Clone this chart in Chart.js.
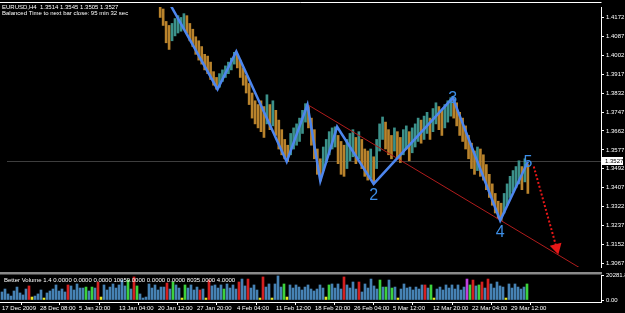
<!DOCTYPE html>
<html>
<head>
<meta charset="utf-8">
<script src="https://cdn.jsdelivr.net/npm/chart.js@4.4.1/dist/chart.umd.min.js"></script>
<style>
html, body { margin: 0; padding: 0; background: #000; width: 625px; height: 313px; overflow: hidden; }
#wrap { position: relative; width: 625px; height: 313px; }
#main { position: absolute; left: 0; top: 0; }
#vol { position: absolute; left: 0; top: 268px; }
</style>
</head>
<body>
<div id="wrap">
    <canvas id="main" width="625" height="274"></canvas>
    <canvas id="vol" width="625" height="45"></canvas>
</div>
<script>
const priceStart = 51;
const priceHigh = [
    1.4246, 1.4211, 1.4155, 1.4137, 1.4146, 1.4168, 1.4181, 1.4173, 1.4190, 1.4181,
    1.4146, 1.4120, 1.4086, 1.4068, 1.4042, 1.4007, 1.3999, 1.3972, 1.3929, 1.3903,
    1.3920, 1.3937, 1.3955, 1.3972, 1.3990, 1.4016, 1.4007, 1.3981, 1.3946, 1.3912,
    1.3876, 1.3833, 1.3798, 1.3781, 1.3798, 1.3772, 1.3825, 1.3781, 1.3798, 1.3755,
    1.3711, 1.3668, 1.3624, 1.3598, 1.3651, 1.3676, 1.3694, 1.3720, 1.3755, 1.3785,
    1.3772, 1.3720, 1.3668, 1.3581, 1.3537, 1.3590, 1.3624, 1.3659, 1.3676, 1.3681,
    1.3642, 1.3615, 1.3598, 1.3624, 1.3651, 1.3668, 1.3633, 1.3659, 1.3624, 1.3581,
    1.3572, 1.3581, 1.3546, 1.3624, 1.3694, 1.3725, 1.3702, 1.3668, 1.3642, 1.3676,
    1.3659, 1.3633, 1.3668, 1.3685, 1.3659, 1.3676, 1.3694, 1.3720, 1.3711, 1.3729,
    1.3746, 1.3720, 1.3763, 1.3789, 1.3772, 1.3755, 1.3781, 1.3798, 1.3812, 1.3807,
    1.3789, 1.3746, 1.3720, 1.3685, 1.3642, 1.3607, 1.3572, 1.3590, 1.3581, 1.3555,
    1.3511, 1.3467, 1.3424, 1.3381, 1.3346, 1.3337, 1.3381, 1.3424, 1.3458, 1.3484,
    1.3502, 1.3528, 1.3502, 1.3537, 1.3511
];
const priceLow = [
    1.4173, 1.4137, 1.4059, 1.4029, 1.4068, 1.4090, 1.4103, 1.4111, 1.4120, 1.4103,
    1.4068, 1.4042, 1.4007, 1.3981, 1.3963, 1.3937, 1.3920, 1.3894, 1.3868, 1.3850,
    1.3859, 1.3885, 1.3903, 1.3920, 1.3937, 1.3963, 1.3946, 1.3903, 1.3868, 1.3833,
    1.3781, 1.3720, 1.3694, 1.3676, 1.3659, 1.3633, 1.3694, 1.3668, 1.3685, 1.3642,
    1.3581, 1.3555, 1.3537, 1.3524, 1.3555, 1.3581, 1.3598, 1.3615, 1.3651, 1.3702,
    1.3676, 1.3598, 1.3537, 1.3467, 1.3437, 1.3484, 1.3520, 1.3555, 1.3581, 1.3590,
    1.3515, 1.3467, 1.3458, 1.3493, 1.3528, 1.3546, 1.3515, 1.3537, 1.3493, 1.3458,
    1.3441, 1.3450, 1.3424, 1.3493, 1.3572, 1.3624, 1.3581, 1.3555, 1.3537, 1.3572,
    1.3537, 1.3520, 1.3555, 1.3581, 1.3528, 1.3564, 1.3590, 1.3615, 1.3607, 1.3624,
    1.3651, 1.3624, 1.3659, 1.3694, 1.3668, 1.3642, 1.3676, 1.3702, 1.3729, 1.3720,
    1.3685, 1.3642, 1.3615, 1.3581, 1.3537, 1.3493, 1.3467, 1.3484, 1.3458, 1.3441,
    1.3398, 1.3363, 1.3328, 1.3293, 1.3267, 1.3259, 1.3293, 1.3328, 1.3363, 1.3389,
    1.3407, 1.3424, 1.3398, 1.3433, 1.3381
];

// Better Volume subwindow
const volume = [
    6500, 8900, 4900, 3200, 7300, 10500, 5700, 4100, 8900, 11400,
    2400, 3200, 4900, 8100, 1600, 5700, 7300, 8900, 12200, 7300,
    8900, 6500, 12200, 11400, 8100, 13000, 9700, 9700, 10500, 7300,
    10500, 9700, 14600, 2400, 12200, 8100, 10500, 13000, 9700, 12200,
    16200, 11400, 16200, 8900, 18700, 11400, 4900, 1600, 2400, 13000,
    9700, 12200, 8100, 10500, 10500, 13800, 8900, 14600, 12200, 9700,
    1600, 12200, 9700, 12200, 8100, 10500, 8100, 8900, 1600, 16200,
    11400, 12200, 9700, 12200, 8900, 13000, 9700, 12200, 8900, 14600,
    17000, 11400, 17000, 9700, 12200, 8100, 1600, 18700, 10500, 13000,
    1600, 13000, 19500, 10500, 13000, 2400, 12200, 9700, 12200, 10500,
    8100, 10500, 12200, 8900, 7300, 8900, 12200, 9700, 2400, 12200,
    13000, 9700, 13000, 8900, 18700, 12200, 9700, 14600, 8900, 14600,
    6500, 13000, 9700, 17000, 11400, 8900, 16200, 10500, 10500, 16200,
    9700, 10500, 1600, 8900, 13000, 9700, 10500, 8100, 10500, 8900,
    12200, 12200, 9700, 12200, 1600, 8900, 10500, 8100, 12200, 9700,
    12200, 8900, 12200, 8100, 10500, 17000, 12200, 16200, 11400, 12200,
    14600, 9700, 17000, 13000, 9700, 14600, 11400, 10500, 1600, 13000,
    9700, 13000, 10500, 8900, 10500, 13000
];
// n = normal, r = climax, g = churn, y = low volume, m = climax churn
const volType = (
    'nnnnnnnnnr' + 'ynnnynnnnn' + 'nnrnnnnngn' + 'gnrynnnnnn' + 'nngnrgnnnn' +
    'nnnnnrngnn' + 'ygnnnnrnyr' + 'nnnngnnnnr' + 'nnrnnnyrnn' + 'ynnngynnnn' +
    'nnnnnnnnyg' + 'nnnnrnnnnr' + 'nnnnnngngn' + 'gnynnnnnnn' + 'nrngynnnnn' +
    'nnnnnmgrng' + 'rnrnnnnnyn' + 'nnnnng'
).split('');
const volMax = 20281.8;

const dateLabels = ['17 Dec 2009', '28 Dec 08:00', '5 Jan 20:00', '13 Jan 04:00', '20 Jan 12:00',
    '27 Jan 20:00', '4 Feb 04:00', '11 Feb 12:00', '18 Feb 20:00', '26 Feb 04:00',
    '5 Mar 12:00', '12 Mar 20:00', '22 Mar 04:00', '29 Mar 12:00'];
const dateBars = [0, 12.67, 25.67, 39, 52, 65, 78.33, 91.33, 104.33, 117.33, 130.33, 143.67, 156.67, 169.67];

const priceTicks = [1.3067, 1.3152, 1.3237, 1.3322, 1.3407, 1.3492, 1.3577, 1.3662,
    1.3747, 1.3832, 1.3917, 1.4002, 1.4087, 1.4172];
const lastPrice = 1.3527;

// zigzag / wave count
const zzBar = [52, 70.33, 76.67, 93.67, 100.67, 105, 110.67, 123, 149.67, 165.67, 175];
const zzPrice = [1.4288, 1.3850, 1.4020, 1.3524, 1.3781, 1.3437, 1.3681, 1.3424, 1.3811, 1.3259, 1.3524];
const waveNames = ['2', '3', '4', '5'];
const waveAt = [7, 8, 9, 10];

const trendBar = [100.67, 192.67];
const trendPrice = [1.3781, 1.3045];
const arrowBar = [177, 184.67];
const arrowPrice = [1.3502, 1.3137];

const xMin = -2 / 3, xMax = 199.67;
const FONT = 'Arial';

const priceBars = priceHigh.map((h, k) => ({ x: priceStart + k, y: [priceLow[k], h] }));
const barColors = priceHigh.map((h, k) => {
    if (k === 0) return '#b9832c';
    const mid = (h + priceLow[k]) / 2;
    const prev = (priceHigh[k - 1] + priceLow[k - 1]) / 2;
    return mid >= prev ? '#3c918a' : '#b9832c';
});

const mainDecor = {
    id: 'mainDecor',
    beforeDatasetsDraw(chart) {
        const { ctx, chartArea: a, scales: { y } } = chart;
        ctx.save();
        ctx.strokeStyle = '#3e3e3e';
        ctx.lineWidth = 1;
        const py = Math.round(y.getPixelForValue(lastPrice)) + 0.5;
        ctx.beginPath();
        ctx.moveTo(a.left, py);
        ctx.lineTo(a.right, py);
        ctx.stroke();
        ctx.restore();
    },
    afterDraw(chart) {
        const { ctx, chartArea: a, scales: { x, y } } = chart;
        ctx.save();
        ctx.strokeStyle = '#ffffff';
        ctx.lineWidth = 1;
        ctx.beginPath();
        ctx.moveTo(0, 2.5);
        ctx.lineTo(a.right + 0.5, 2.5);
        ctx.stroke();

        ctx.fillStyle = '#ffffff';
        ctx.font = '6px ' + FONT;
        ctx.textBaseline = 'alphabetic';
        ctx.fillText('EURUSD,H4  1.3514 1.3545 1.3505 1.3527', 2, 8.5);
        ctx.fillText('Balanced Time to next bar close: 95 min 32 sec', 2, 15);

        const py = y.getPixelForValue(lastPrice);
        ctx.fillRect(a.right + 1, py - 4, 21, 8);
        ctx.fillStyle = '#000000';
        ctx.textBaseline = 'middle';
        ctx.fillText(lastPrice.toFixed(4), a.right + 4, py + 0.5);

        ctx.font = '16px ' + FONT;
        ctx.fillStyle = '#3d8ee6';
        ctx.textAlign = 'center';
        waveNames.forEach((n, k) => {
            const j = waveAt[k];
            const px = x.getPixelForValue(zzBar[j]);
            let ly = y.getPixelForValue(zzPrice[j]);
            if (n === '2' || n === '4') ly += 11;
            ctx.fillText(n, px, ly + 1);
        });
        ctx.restore();
    }
};

new Chart(document.getElementById('main'), {
    type: 'bar',
    data: {
        datasets: [
            {
                type: 'line',
                data: trendBar.map((b, k) => ({ x: b, y: trendPrice[k] })),
                borderColor: '#b01c1c',
                borderWidth: 1,
                pointRadius: 0,
                order: 1
            },
            {
                data: priceBars,
                backgroundColor: barColors,
                barThickness: 2,
                borderWidth: 0,
                order: 2
            },
            {
                type: 'line',
                data: zzBar.map((b, k) => ({ x: b, y: zzPrice[k] })),
                borderColor: '#4d86ee',
                borderWidth: 2.5,
                pointRadius: 0,
                tension: 0,
                order: 0
            },
            {
                type: 'line',
                data: arrowBar.map((b, k) => ({ x: b, y: arrowPrice[k] })),
                borderColor: '#e81818',
                backgroundColor: '#e81818',
                borderWidth: 2,
                borderDash: [2, 2],
                pointRadius: [0, 5],
                pointStyle: 'triangle',
                rotation: 165,
                order: 0
            }
        ]
    },
    options: {
        responsive: false,
        animation: false,
        events: [],
        layout: { padding: { top: 3, bottom: 2, left: 0, right: 0 } },
        plugins: { legend: { display: false }, tooltip: { enabled: false } },
        scales: {
            x: { type: 'linear', display: false, min: xMin, max: xMax, offset: false },
            y: {
                position: 'right',
                min: 1.3050,
                max: 1.4220,
                afterBuildTicks: (s) => { s.ticks = priceTicks.map(v => ({ value: v })); },
                afterFit: (s) => { s.width = 24; },
                ticks: {
                    color: '#ffffff',
                    font: { family: FONT, size: 6 },
                    padding: 2,
                    autoSkip: false,
                    callback: (v) => v.toFixed(4)
                },
                grid: { drawOnChartArea: false, color: '#ffffff', tickLength: 3 },
                border: { color: '#ffffff' }
            }
        }
    },
    plugins: [mainDecor]
});

const volColors = { n: '#4682b4', r: '#d42020', g: '#3cd23c', y: '#e8e820', m: '#c040e0' };

const volDecor = {
    id: 'volDecor',
    beforeDraw(chart) {
        const { ctx, chartArea: a } = chart;
        ctx.save();
        ctx.fillStyle = '#8a8a8a';
        ctx.fillRect(0, 4, a.right + 1, 2.5);
        ctx.restore();
    },
    afterDatasetsDraw(chart) {
        const { ctx } = chart;
        ctx.save();
        ctx.fillStyle = '#ffffff';
        ctx.font = '6px ' + FONT;
        ctx.fillText('Better Volume 1.4 0.0000 0.0000 0.0000 10059.0000 0.0000 0.0000 8035.0000 4.0000', 4, 14);
        ctx.restore();
    }
};

new Chart(document.getElementById('vol'), {
    type: 'bar',
    data: {
        datasets: [{
            data: volume.map((v, i) => ({ x: i, y: v })),
            backgroundColor: volType.map(t => volColors[t]),
            barThickness: 2,
            borderWidth: 0
        }]
    },
    options: {
        responsive: false,
        animation: false,
        events: [],
        layout: { padding: { top: 7, bottom: 0, left: 0, right: 0 } },
        plugins: { legend: { display: false }, tooltip: { enabled: false } },
        scales: {
            x: {
                type: 'linear',
                min: xMin,
                max: xMax,
                offset: false,
                afterBuildTicks: (s) => { s.ticks = dateBars.map(v => ({ value: v })); },
                afterFit: (s) => { s.height = 11; },
                ticks: {
                    color: '#ffffff',
                    font: { family: FONT, size: 6 },
                    align: 'start',
                    padding: 0,
                    autoSkip: false,
                    maxRotation: 0,
                    callback: (v, i) => dateLabels[i]
                },
                grid: { drawOnChartArea: false, color: '#ffffff', tickLength: 3 },
                border: { color: '#ffffff' }
            },
            y: {
                position: 'right',
                min: -1622,
                max: volMax,
                afterBuildTicks: (s) => { s.ticks = [{ value: 0 }, { value: volMax }]; },
                afterFit: (s) => { s.width = 24; },
                ticks: {
                    color: '#ffffff',
                    font: { family: FONT, size: 6 },
                    padding: 2,
                    callback: (v) => v === 0 ? '0.00' : v.toFixed(1)
                },
                grid: { drawOnChartArea: false, color: '#ffffff', tickLength: 3 },
                border: { color: '#ffffff' }
            }
        }
    },
    plugins: [volDecor]
});
</script>
</body>
</html>
